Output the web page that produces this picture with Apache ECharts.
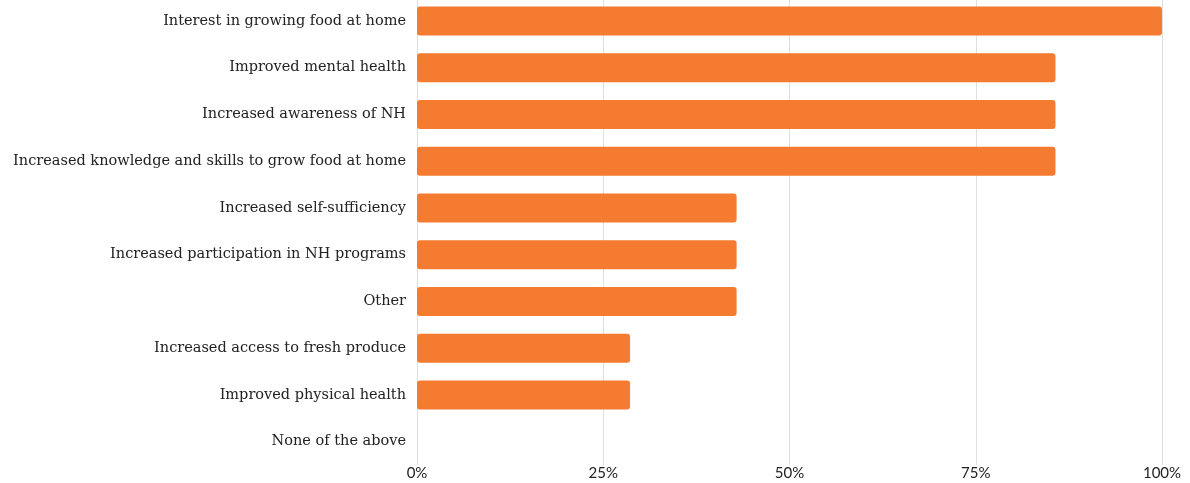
<!DOCTYPE html>
<html><head><meta charset="utf-8">
<script src="https://cdn.jsdelivr.net/npm/echarts@6/dist/echarts.min.js"></script>
<style>html,body{margin:0;padding:0;background:#fff}#c{width:1190px;height:483px}</style>
</head><body><div id="c"></div>
<script>
const categories = [
  "Interest in growing food at home",
  "Improved mental health",
  "Increased awareness of NH",
  "Increased knowledge and skills to grow food at home",
  "Increased self-sufficiency",
  "Increased participation in NH programs",
  "Other",
  "Increased access to fresh produce",
  "Improved physical health",
  "None of the above"
];
const values = [100, 85.7, 85.7, 85.7, 42.9, 42.9, 42.9, 28.6, 28.6, 0];
const tickLabels = ["0%", "25%", "50%", "75%", "100%"];

const chart = echarts.init(document.getElementById('c'));
chart.setOption({
  animation: false,
  grid: {left: 417, right: 28, top: -2.4, bottom: 18, containLabel: false, outerBoundsMode: 'none'},
  xAxis: {
    type: 'value', min: 0, max: 100, interval: 25,
    axisLine: {show: false}, axisTick: {show: false},
    splitLine: {lineStyle: {color: '#e0e0e0', width: 1}},
    axisLabel: {
      formatter: v => tickLabels[v / 25],
      fontFamily: 'Lato', fontSize: 15, color: '#222', margin: 1
    }
  },
  yAxis: {
    type: 'category', data: categories, inverse: true,
    axisLine: {show: false}, axisTick: {show: false},
    axisLabel: {fontFamily: 'DejaVu Serif', fontSize: 14.5, color: '#222', margin: 11}
  },
  series: [{
    type: 'bar', data: values, barWidth: 29,
    itemStyle: {color: '#F47B30', borderRadius: 3}
  }]
});
</script></body></html>
